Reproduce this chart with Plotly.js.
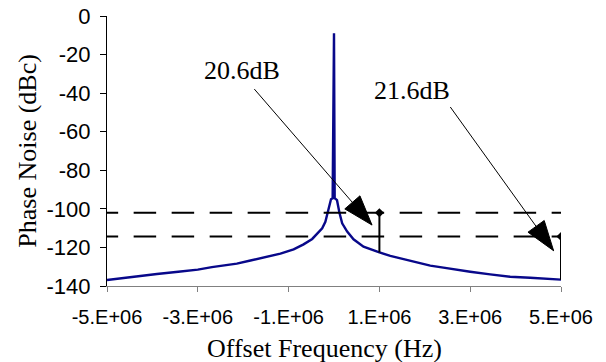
<!DOCTYPE html>
<html><head><meta charset="utf-8">
<script src="https://cdn.plot.ly/plotly-3.0.1.min.js"></script>
<style>html,body{margin:0;padding:0;background:#fff}#chart{width:606px;height:362px}</style>
</head><body><div id="chart"></div>
<script>
// ---- data ----
const freqHz = [-5.0e6,-4.86e6,-4.34e6,-3.9e6,-3.43e6,-3.0e6,-2.69e6,-2.14e6,-1.84e6,-1.47e6,-1.18e6,-0.89e6,-0.67e6,-0.48e6,-0.37e6,-0.26e6,-0.19e6,-0.14e6,-0.10e6,-0.066e6,-0.03e6,0,0.015e6,0.066e6,0.12e6,0.18e6,0.29e6,0.43e6,0.65e6,0.87e6,1.0e6,1.24e6,1.46e6,1.68e6,1.90e6,2.12e6,2.41e6,2.71e6,3.0e6,3.44e6,3.88e6,4.32e6,4.84e6,5.0e6];
const phaseNoiseDbc = [-136.9,-136.5,-134.8,-133.8,-132.6,-131.5,-130.2,-128.4,-126.8,-125.0,-123.2,-121.0,-118.4,-115.6,-113.0,-110.1,-106.7,-102.3,-97.5,-95.0,-94.5,-9,-94.5,-95.5,-102.0,-107.5,-111.8,-115.8,-119.6,-121.7,-122.6,-124.4,-125.6,-127.0,-128.2,-129.4,-130.5,-131.4,-132.6,-134.0,-135.2,-135.7,-136.4,-136.7];
const levelDbc = [-102, -114.3];          // dashed reference levels
const markerFreq = [1e6, 5e6];
const markerTop = [-102, -114.3];
const markerBottom = [-122.6, -136.7];
const labelText = ['20.6dB', '21.6dB'];
const xTickVals = [-5e6,-3e6,-1e6,1e6,3e6,5e6];
const xTickText = ['-5.E+06','-3.E+06','-1.E+06','1.E+06','3.E+06','5.E+06'];
const yTickVals = [0,-20,-40,-60,-80,-100,-120,-140];
const yTickText = ['0','-20','-40','-60','-80','-100','-120','-140'];

// ---- styling / placement ----
const W = 606, H = 362, M = {l:107, r:45, t:16, b:76};
const xRange = [-5e6, 5e6], yRange = [-140, 0];
const pxPerHz = (W - M.l - M.r) / (xRange[1] - xRange[0]);
const pxPerDb = (H - M.t - M.b) / (yRange[1] - yRange[0]);
const dashStartX = -5.25e6;   // phase of dash pattern (clipped by axis)
const labelPos = [{x:-2.03e6, y:-28.3}, {x:1.714e6, y:-38.6}];
const arrows = [
  {tipX:0.837e6, tipY:-108.4, tailDx:-117.7, tailDy:-136},
  {tipX:4.837e6, tipY:-121.7, tailDx:-103.3, tailDy:-143.7}
];
const headLen = 30, headW = 20;
const serif = 'Liberation Serif, Times New Roman, serif';
const sans = 'Liberation Sans, Arial, sans-serif';

const traces = [];
traces.push({x:freqHz, y:phaseNoiseDbc, mode:'lines', line:{color:'#08088a', width:2.4}, hoverinfo:'skip'});
levelDbc.forEach(l => traces.push({x:[dashStartX, markerFreq[markerFreq.length-1]], y:[l,l], mode:'lines',
  line:{color:'black', width:2, dash:'22.5px,15.5px'}, hoverinfo:'skip'}));
markerFreq.forEach((f,i) => traces.push({x:[f,f], y:[markerTop[i], markerBottom[i]], mode:'lines',
  line:{color:'black', width:2}, hoverinfo:'skip'}));
traces.push({x:markerFreq, y:markerTop, mode:'markers', marker:{symbol:'diamond', size:7, color:'black'}, hoverinfo:'skip'});

// arrow lines and filled heads (offsets in screen pixels converted via the axis scales)
const toData = (a, sx, sy) => [a.tipX + sx / pxPerHz, a.tipY - sy / pxPerDb];
arrows.forEach(a => {
  const len = Math.hypot(a.tailDx, a.tailDy);
  const ux = -a.tailDx/len, uy = -a.tailDy/len;
  const bx = -ux*headLen, by = -uy*headLen;
  const nx = -uy*headW/2, ny = ux*headW/2;
  const tail = toData(a, a.tailDx, a.tailDy);
  traces.push({x:[tail[0], a.tipX], y:[tail[1], a.tipY], mode:'lines', line:{color:'black', width:1}, hoverinfo:'skip'});
  const c1 = toData(a, bx+nx, by+ny), c2 = toData(a, bx-nx, by-ny);
  traces.push({x:[a.tipX, c1[0], c2[0], a.tipX], y:[a.tipY, c1[1], c2[1], a.tipY], mode:'lines', fill:'toself',
    fillcolor:'black', line:{color:'black', width:1}, hoverinfo:'skip'});
});

const annotations = labelText.map((t,i) => ({x:labelPos[i].x, y:labelPos[i].y, xref:'x', yref:'y', text:t, showarrow:false,
  font:{family:serif, size:26, color:'black'}, xanchor:'center', yanchor:'middle'}));
annotations.push({xref:'paper', yref:'paper', x:-0.177, y:0.5, text:'Phase Noise (dBc)', textangle:-90, showarrow:false,
  font:{family:serif, size:26, color:'black'}, xanchor:'center', yanchor:'middle'});
annotations.push({xref:'paper', yref:'paper', x:0.48, y:-0.232, text:'Offset Frequency (Hz)', showarrow:false,
  font:{family:serif, size:26, color:'black'}, xanchor:'center', yanchor:'middle'});

const layout = {
  width:W, height:H, margin:M,
  paper_bgcolor:'white', plot_bgcolor:'white', showlegend:false,
  xaxis:{range:xRange, tickvals:xTickVals, ticktext:xTickText, showgrid:false, zeroline:false,
    showline:true, linecolor:'#808080', linewidth:1, ticks:'outside', ticklen:5, tickcolor:'#808080', tickwidth:1,
    ticklabelstandoff:8, tickfont:{family:sans, size:20, color:'black'}, fixedrange:true},
  yaxis:{range:yRange, tickvals:yTickVals, ticktext:yTickText, showgrid:false, zeroline:false,
    showline:true, linecolor:'black', linewidth:1, ticks:'outside', ticklen:6, tickcolor:'black', tickwidth:1,
    ticklabelstandoff:5, tickfont:{family:sans, size:22, color:'black'}, fixedrange:true},
  annotations:annotations
};
Plotly.newPlot('chart', traces, layout, {staticPlot:true, displayModeBar:false});
</script></body></html>
